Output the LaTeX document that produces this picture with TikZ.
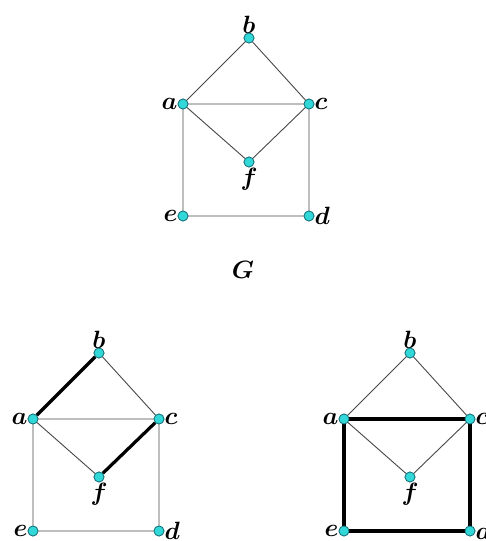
\documentclass[tikz,border=0pt]{standalone}
\usepackage{bm}
\usepackage{graphicx}
\definecolor{vfill}{RGB}{50,215,215}
\definecolor{vdraw}{RGB}{20,110,120}
\definecolor{thin}{RGB}{70,70,70}
\newcommand{\vl}[1]{\scalebox{2.5}{$\bm{#1}$}}
\tikzset{
  vert/.style={circle,fill=vfill,draw=vdraw,line width=0.7pt,minimum size=10pt,inner sep=0pt},
  lbl/.style={inner sep=1pt},
  thinedge/.style={draw=thin,line width=0.9pt},
  heavy/.style={draw=black,line width=3.2pt},
}
\newcommand{\mygraph}[3]{%
  \begin{scope}[shift={(#2,#3)}]
    \node[vert,label={[lbl,label distance=-2pt]above:\vl{b}}] (#1b) at (66,-66) {};
    \node[vert,label={[lbl,label distance=-1pt]left:\vl{a}}] (#1a) at (0,0) {};
    \node[vert,label={[lbl,label distance=-1pt]right:\vl{c}}] (#1c) at (126,0) {};
    \node[vert,label={[lbl,label distance=0pt]below:\vl{f}}] (#1f) at (66,58) {};
    \node[vert,label={[lbl,label distance=-1pt]left:\vl{e}}] (#1e) at (0,112) {};
    \node[vert,label={[lbl,label distance=-1pt]right:\vl{d}}] (#1d) at (126,112) {};
  \end{scope}}
\begin{document}
\begin{tikzpicture}[x=1pt,y=-1pt]
\useasboundingbox (0,0) rectangle (486,541);
% top graph G
\mygraph{t}{183}{104}
\path[thinedge] (ta) -- (tb) -- (tc) -- (ta) -- (tf) -- (tc) -- (td) -- (te) -- (ta);
\node[lbl] (G) at (243,270) {\vl{G}};
% bottom left
\mygraph{l}{33}{419}
\path[thinedge] (lb) -- (lc) -- (la) (la) -- (lf) (lc) -- (ld) -- (le) -- (la);
\path[heavy] (la) -- (lb) (lc) -- (lf);
% bottom right
\mygraph{r}{344}{419}
\path[thinedge] (ra) -- (rb) -- (rc) (ra) -- (rf) -- (rc);
\path[heavy] (ra) -- (rc) -- (rd) -- (re) -- (ra);
% redraw vertices on top
\foreach \p in {t,l,r}{
  \foreach \v in {a,b,c,d,e,f}{
    \node[vert] at (\p\v) {};
  }
}
\end{tikzpicture}
\end{document}
